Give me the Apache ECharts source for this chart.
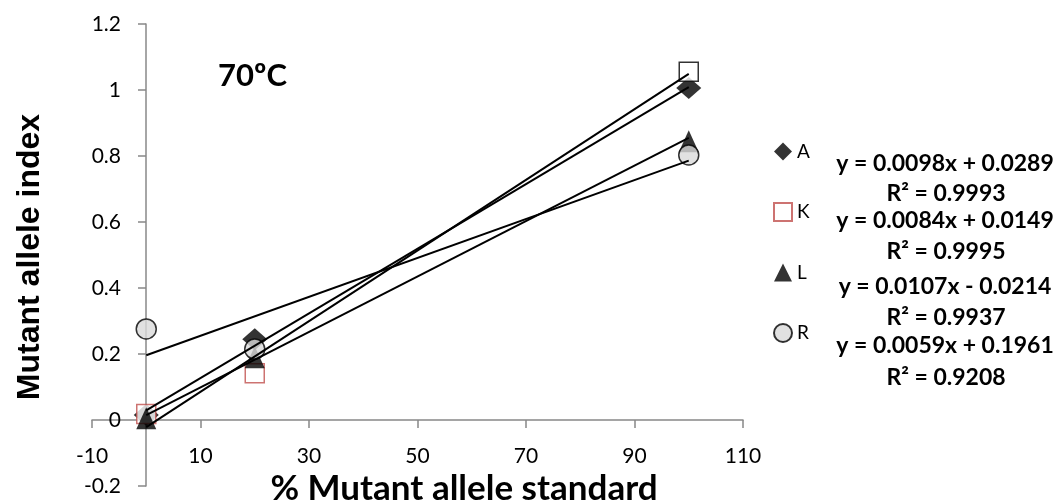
<!DOCTYPE html>
<html><head><meta charset="utf-8">
<script src="https://cdn.jsdelivr.net/npm/echarts@6/dist/echarts.min.js"></script>
<style>html,body{margin:0;padding:0;background:#fff}#c{width:1062px;height:502px}</style>
</head><body><div id="c"></div>
<script>
// ---- data ----
const seriesNames = ['A', 'K', 'L', 'R'];
const xStandard = [0, 20, 100];
const yA = [0.015, 0.245, 1.006];
const yK = [0.018, 0.142, 1.055];
const yL = [0.005, 0.19, 0.845];
const yR = [0.276, 0.215, 0.803];
const trendX = [0, 100];
const trendA = [0.0289, 1.0089];
const trendK = [0.0149, 0.8549];
const trendL = [-0.0214, 1.0486];
const trendR = [0.1961, 0.7861];
const eqLabels = ['y = 0.0098x + 0.0289', 'y = 0.0084x + 0.0149', 'y = 0.0107x - 0.0214', 'y = 0.0059x + 0.1961'];
const r2Labels = ['R² = 0.9993', 'R² = 0.9995', 'R² = 0.9937', 'R² = 0.9208'];
const tempLabel = '70ºC';
const xTitle = '% Mutant allele standard';
const yTitle = 'Mutant allele index';

const FONT = 'Lato';
const pts = ys => xStandard.map((x, i) => [x, ys[i]]);
const tr = ys => trendX.map((x, i) => [x, ys[i]]);

const kData = pts(yK).map((p, i) => i === 2
  ? { value: p, itemStyle: { borderColor: '#000' } }
  : { value: p });

const axisStyle = { lineStyle: { color: '#888', width: 1.5 } };

const option = {
  animation: false,
  backgroundColor: '#fff',
  grid: { left: 92, right: 319, top: 24, bottom: 16, containLabel: false, outerBoundsMode: 'none' },
  xAxis: {
    type: 'value', min: -10, max: 110, interval: 20, offset: -66,
    axisLine: { show: true, onZero: false, ...axisStyle },
    axisTick: { show: true, length: 8, ...axisStyle },
    splitLine: { show: false },
    axisLabel: { fontFamily: FONT, fontSize: 21, color: '#000', margin: 26 }
  },
  yAxis: {
    type: 'value', min: -0.2, max: 1.2, interval: 0.2, offset: -54,
    axisLine: { show: true, onZero: false, ...axisStyle },
    axisTick: { show: true, length: 8, ...axisStyle },
    splitLine: { show: false },
    axisLabel: { fontFamily: FONT, fontSize: 21, color: '#000', margin: 25,
      formatter: v => String(Math.round(v * 10) / 10) }
  },
  legend: {
    data: seriesNames, orient: 'vertical', left: 768, top: 137,
    itemGap: 41, itemWidth: 18, itemHeight: 18,
    textStyle: { fontFamily: FONT, fontSize: 19, color: '#000' }
  },
  series: [
    { name: 'A', type: 'scatter', symbol: 'diamond', symbolSize: [25, 22], z: 2,
      itemStyle: { color: '#000' }, data: pts(yA) },
    { name: 'K', type: 'scatter', symbol: 'rect', symbolSize: 19, z: 2,
      itemStyle: { color: '#fff', borderColor: '#c0504d', borderWidth: 1.5 }, data: kData },
    { name: 'L', type: 'scatter', symbol: 'triangle', symbolSize: [20, 22], z: 2,
      itemStyle: { color: '#000' }, data: pts(yL) },
    { name: 'R', type: 'scatter', symbol: 'circle', symbolSize: 20, z: 2,
      itemStyle: { color: '#d9d9d9', borderColor: '#000', borderWidth: 1.5 }, data: pts(yR) },
    ...[trendA, trendK, trendL, trendR].map(t => ({
      type: 'line', data: tr(t), symbol: 'none', z: 3, silent: true,
      lineStyle: { color: '#000', width: 2 }
    }))
  ],
  graphic: [
    { type: 'text', left: 218, top: 60, style: { text: tempLabel, font: 'bold 31px ' + FONT, fill: '#000' } },
    { type: 'text', x: 464, y: 489, style: { text: xTitle, font: 'bold 35px ' + FONT, fill: '#000', textAlign: 'center', textVerticalAlign: 'middle' } },
    { type: 'text', x: 30, y: 257, rotation: Math.PI / 2, style: { text: yTitle, font: 'bold 32px "Liberation Sans"', fill: '#000', textAlign: 'center', textVerticalAlign: 'middle' } },
    ...eqLabels.flatMap((t, i) => [
      { type: 'text', x: 945, y: [164, 221, 287, 346][i], style: { text: t, font: 'bold 23px ' + FONT, fill: '#000', textAlign: 'center', textVerticalAlign: 'middle' } },
      { type: 'text', x: 946, y: [194, 252, 318, 378][i], style: { text: r2Labels[i], font: 'bold 23px ' + FONT, fill: '#000', textAlign: 'center', textVerticalAlign: 'middle' } }
    ])
  ]
};
echarts.init(document.getElementById('c')).setOption(option);
</script></body></html>
